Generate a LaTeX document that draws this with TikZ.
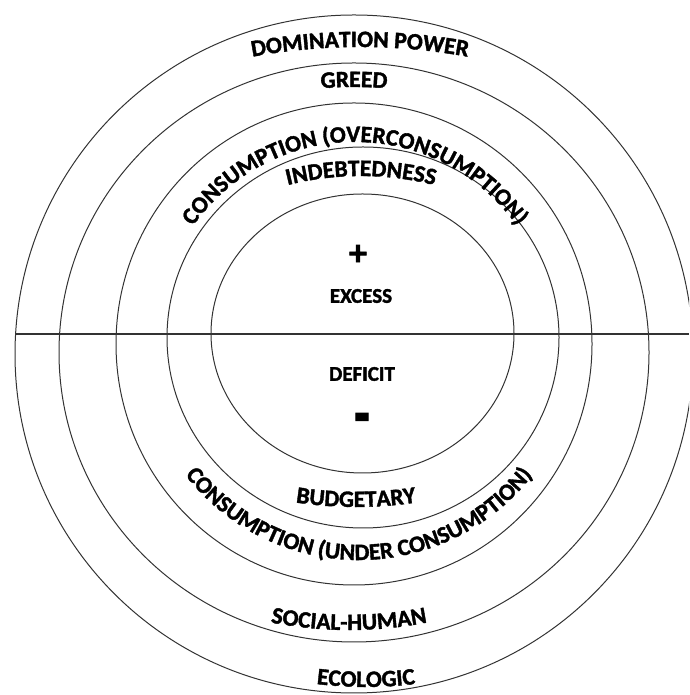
\documentclass[tikz,border=0pt]{standalone}
\usepackage{fontspec}
\setmainfont{Carlito}
\newfontfamily\heavyfamily[FakeBold=1.6]{Carlito Bold}
\usetikzlibrary{decorations.text}
\newcommand\ringfont{\fontsize{23.5}{26}\heavyfamily}
\tikzset{
	ring/.style={line width=1pt, draw=black!80},
	ringtext/.style={decorate, decoration={text along path, text align=center, text={|\ringfont|#1}}},
	core/.style={font=\fontsize{21}{24}\heavyfamily, inner sep=0pt},
}
\begin{document}
\begin{tikzpicture}[x=1pt,y=1pt]
	\useasboundingbox (0,0) rectangle (689,695);
	\clip (0,0) rectangle (689,695);
	\draw[ring] (362.5,361.5) ellipse [x radius=151.5, y radius=139.5];
	\draw[ring] (363,357.5) ellipse [x radius=196, y radius=190.5];
	\draw[ring] (354,351) ellipse [x radius=238, y radius=241];
	\draw[ring] (354,342.5) ellipse [x radius=295, y radius=289.5];
	\draw[ring] (354,341) circle [radius=339];
	\coordinate (west) at (15,361);
	\coordinate (east) at (689,361);
	\draw[line width=1.3pt, black!80] (west) -- (east);
	\node[core, font=\fontsize{36}{36}\heavyfamily] (plus) at (358,440) {+};
	\node[core] (excess) at (361,399) {EXCESS};
	\node[core] (deficit) at (362,321) {DEFICIT};
	\node[core, font=\fontsize{50}{50}\heavyfamily, yscale=1.4, transform shape] (minus) at (362,270) {-};
	\path[ringtext={DOMINATION POWER}] (360,48) ++(120:600) arc[start angle=120, end angle=60, radius=600];
	\path[ringtext={GREED}] (354,208) ++(110:400) arc[start angle=110, end angle=70, radius=400];
	\path[ringtext={CONSUMPTION (OVERCONSUMPTION)}] (355,355) ++(170:198) arc[start angle=170, end angle=10, radius=198];
	\path[ringtext={INDEBTEDNESS}] (361,219) ++(120:300) arc[start angle=120, end angle=60, radius=300];
	\path[ringtext={BUDGETARY}] (356,588) ++(240:400) arc[start angle=240, end angle=300, radius=400];
	\path[ringtext={CONSUMPTION (UNDER CONSUMPTION)}] (359,355) ++(190:220) arc[start angle=190, end angle=350, radius=220];
	\path[ringtext={SOCIAL-HUMAN}] (349,475) ++(240:410) arc[start angle=240, end angle=300, radius=410];
	\path[ringtext={ECOLOGIC}] (366,408) ++(250:400) arc[start angle=250, end angle=290, radius=400];
\end{tikzpicture}
\end{document}
